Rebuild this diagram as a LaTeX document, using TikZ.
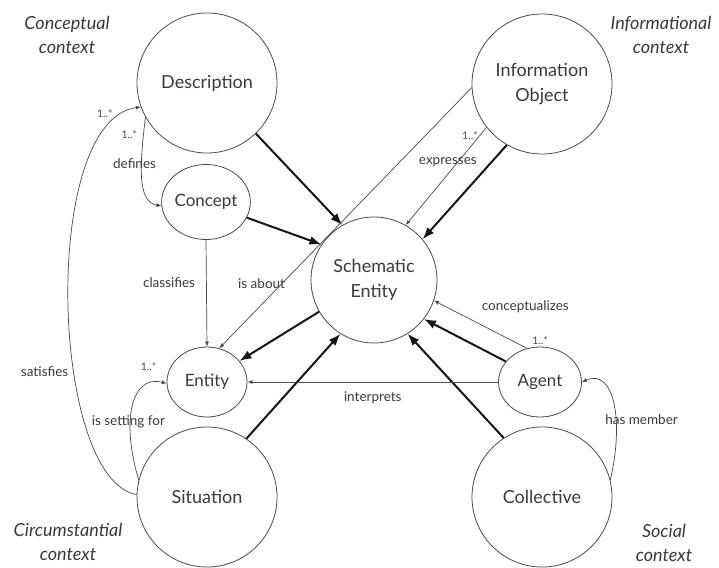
\documentclass[tikz,border=0pt]{standalone}
\usepackage{fontspec}
\setmainfont{Lato}
\usepackage{xcolor}
\definecolor{lineDark}{HTML}{151515}
\definecolor{edgeGray}{HTML}{4A4A4A}
\definecolor{textGray}{HTML}{3A3A3A}
\usepackage{tikz}
\usetikzlibrary{positioning,arrows.meta,shapes.geometric}
\tikzset{%
  bigCircle/.style={%
    circle,
    draw=edgeGray,
    line width=0.8pt,
    minimum size=140pt,
    inner sep=0pt,
    text=textGray,
    align=center,
    font=\fontsize{18}{25}\selectfont
  },
  smallEllipse/.style={%
    ellipse,
    draw=edgeGray,
    line width=0.8pt,
    minimum width=83pt,
    minimum height=71pt,
    inner sep=0pt,
    text=textGray,
    font=\fontsize{17}{20}\selectfont
  },
  contextLabel/.style={%
    align=center,
    text=textGray,
    font=\fontsize{18}{24}\selectfont\itshape
  },
  edgeLabel/.style={%
    text=textGray,
    inner sep=1pt,
    font=\fontsize{13.5}{15}\selectfont
  },
  cardLabel/.style={%
    text=edgeGray,
    inner sep=1pt,
    font=\fontsize{10.5}{11}\selectfont
  },
  heavyArrow/.style={%
    -{Latex[length=12pt,width=9pt]},
    line width=2pt,
    color=lineDark
  },
  lightArrow/.style={%
    -{Latex[length=5pt,width=4pt]},
    line width=0.7pt,
    color=edgeGray
  }
}

\begin{document}
\begin{tikzpicture}[x=1pt,y=-1pt]
  \useasboundingbox[fill=white] (0,0) rectangle (719,567);

  % the four contexts
  \node[contextLabel] (conceptualCtx) at (67,35) {Conceptual\\context};
  \node[contextLabel] (informationalCtx) at (661,35) {Informational\\context};
  \node[contextLabel] (circumstantialCtx) at (68,542) {Circumstantial\\context};
  \node[contextLabel] (socialCtx) at (664,543) {Social\\context};

  % classes
  \node[bigCircle] (desc) at (207,83) {Description};
  \node[bigCircle] (info) at (542,84) {Information\\Object};
  \node[smallEllipse, minimum width=85pt, minimum height=75pt] (concept) at (206,202) {Concept};
  \node[bigCircle, minimum size=126pt] (schema) at (374,280) {Schematic\\Entity};
  \node[smallEllipse, minimum width=80pt, minimum height=70pt] (entity) at (207,382) {Entity};
  \node[smallEllipse, minimum height=70pt] (agent) at (540,382) {Agent};
  \node[bigCircle] (situation) at (207,497) {Situation};
  \node[bigCircle] (collective) at (542,497) {Collective};

  % specialisation of the schematic entity
  \draw[heavyArrow] (desc.-46) -- (schema.120);
  \draw[heavyArrow] (concept.-21) -- (schema.146);
  \draw[heavyArrow] (info.-120) -- (schema.40);
  \draw[heavyArrow] (schema.210) -- (entity.33);
  \draw[heavyArrow] (situation.56) -- (schema.238);
  \draw[heavyArrow] (agent.149) -- (schema.-38);
  \draw[heavyArrow] (collective.123) -- (schema.-58);

  % relations
  \draw[lightArrow] (desc.209) .. controls +(-6,50) and +(-24,-4) .. (concept.185)
    node[cardLabel, pos=.12, left=5pt] (definesCard) {1..*}
    node[edgeLabel, pos=.35, xshift=-7pt] (definesLbl) {defines};
  \draw[lightArrow] (situation.178) .. controls (50,480) and (40,120) .. (desc.200)
    node[edgeLabel, pos=.37, left=4pt] (satisfiesLbl) {satisfies}
    node[cardLabel, pos=.9, above left=2pt and 0pt] (satisfiesCard) {1..*};
  \draw[lightArrow] (concept.south) -- (entity.north)
    node[edgeLabel, pos=.4, left=10pt] (classifiesLbl) {classifies};
  \draw[lightArrow] (info.183) -- (entity.70)
    node[edgeLabel, pos=.75, anchor=east, xshift=4pt] (aboutLbl) {is about};
  \draw[lightArrow] (info.218) -- (schema.60)
    node[cardLabel, pos=.08, left=1pt] (expressesCard) {1..*}
    node[edgeLabel, pos=.355, xshift=-10pt] (expressesLbl) {expresses};
  \draw[lightArrow] (agent.111) -- (schema.-19)
    node[cardLabel, pos=0, above right=2pt and 4pt] (conceptCard) {1..*}
    node[edgeLabel, pos=.5, anchor=south west, yshift=10pt] (conceptLbl) {conceptualizes};
  \draw[lightArrow] (agent.west) -- (entity.east)
    node[edgeLabel, pos=.5, below=8pt] (interpretsLbl) {interprets};
  \draw[lightArrow] (situation.166) .. controls +(-18,-60) and +(-35,-9) .. (entity.182)
    node[edgeLabel, pos=.37, xshift=-2pt] (settingLbl) {is setting for}
    node[cardLabel, pos=.8, above=12pt] (settingCard) {1..*};
  \draw[lightArrow] (collective.14) .. controls +(14,-60) and +(32,-14) .. (agent.east)
    node[edgeLabel, pos=.37, anchor=west, xshift=-12pt] (memberLbl) {has member};
\end{tikzpicture}
\end{document}
